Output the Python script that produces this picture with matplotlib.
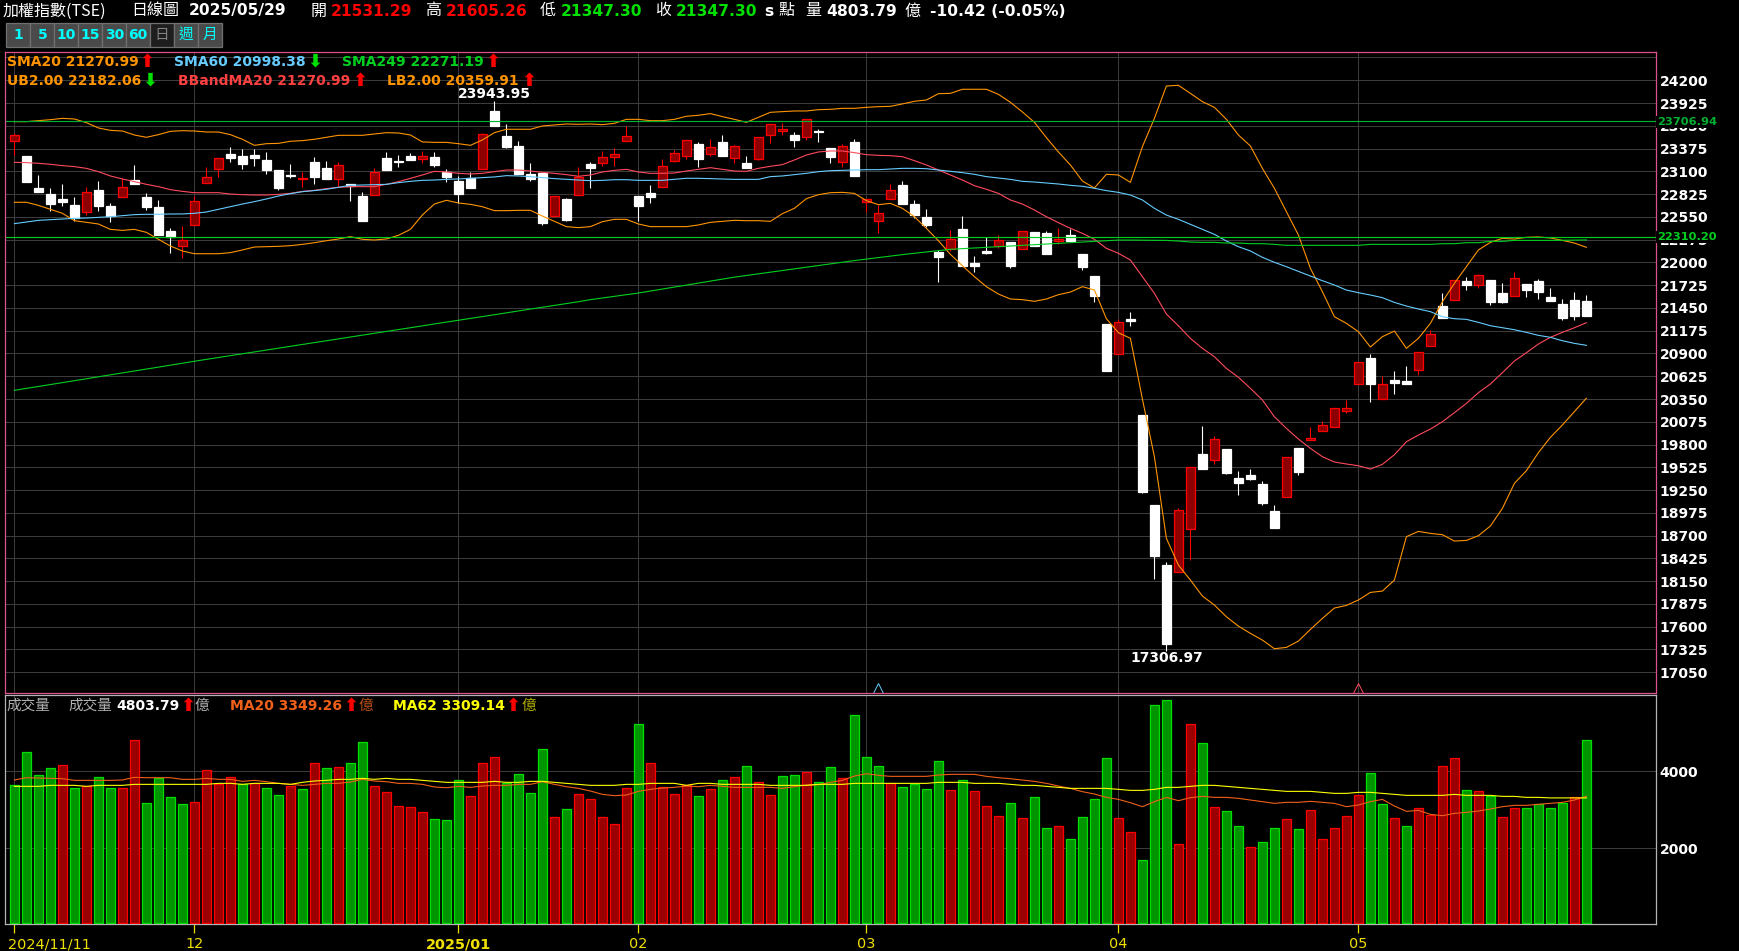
import matplotlib
matplotlib.use("Agg")
import matplotlib.pyplot as plt
from matplotlib.transforms import ScaledTranslation

W, H = 1740, 951
CJK = ['Noto Sans CJK TC', 'DejaVu Sans']

opens = [23471,23285,22895,22822,22766,22693,22613,22875,22681,22794,
         22995,22790,22669,22379,22202,22456,22963,23124,23310,23285,
         23297,23237,23116,23056,23004,23209,23140,23012,22947,22802,
         22810,23261,23225,23285,23253,23273,23092,22983,23020,23132,
         23829,23527,23406,23068,23080,22561,22766,22818,23189,23205,
         23269,23471,22802,22838,22915,23225,23289,23430,23314,23455,
         23265,23201,23253,23543,23587,23539,23519,23583,23382,23213,
         23455,22730,22504,22766,22935,22705,22548,22126,22158,22403,
         21993,22138,22198,22246,22166,22367,22355,22258,22331,22101,
         21836,21256,20890,21313,20157,19069,18344,18256,18775,19685,
         19609,19746,19395,19432,19323,18997,19162,19758,19859,19967,
         20016,20209,20535,20842,20350,20580,20567,20697,20994,21473,
         21550,21775,21727,21787,21630,21598,21739,21775,21582,21497,
         21546,21531.29]
closes = [23539,22975,22854,22709,22730,22532,22846,22685,22561,22907,
          22943,22673,22335,22303,22271,22738,23032,23257,23261,23193,
          23265,23116,22899,23044,23016,23032,23008,23173,22923,22500,
          23096,23116,23217,23237,23281,23177,23032,22826,22899,23547,
          23652,23394,23072,23008,22476,22798,22512,23036,23140,23273,
          23310,23527,22685,22790,23165,23318,23475,23249,23390,23285,
          23406,23140,23511,23668,23608,23479,23728,23575,23273,23406,
          23044,22762,22593,22875,22705,22573,22452,22065,22283,21956,
          21956,22110,22271,21956,22375,22198,22101,22283,22258,21944,
          21594,20688,21277,21296,19226,18457,17394,19005,19524,19508,
          19863,19460,19335,19383,19097,18795,19645,19472,19875,20032,
          20237,20237,20793,20531,20528,20547,20535,20914,21131,21332,
          21783,21723,21844,21521,21521,21807,21666,21642,21533,21328,
          21352,21347.30]
highs = [23559,23285,23052,22895,22947,22790,22911,22983,22718,23020,
         23177,22834,22754,22412,22440,22802,23152,23261,23394,23370,
         23370,23334,23116,23189,23096,23273,23225,23213,22947,22850,
         23140,23334,23297,23322,23346,23334,23128,23044,23092,23559,
         23943.95,23672,23467,23201,23080,22802,22778,23152,23213,23346,
         23378,23648,22802,22935,23249,23358,23479,23455,23491,23539,
         23418,23285,23515,23672,23684,23575,23732,23612,23382,23430,
         23491,22766,22693,22947,22983,22754,22645,22150,22391,22560,
         22077,22307,22331,22246,22379,22367,22379,22415,22403,22101,
         21836,21256,21313,21397,20157,19069,18381,19033,19524,20024,
         19903,19746,19480,19504,19359,19069,19645,19758,20012,20080,
         20237,20338,20793,20890,20628,20688,20749,20914,21179,21630,
         21783,21823,21860,21787,21751,21884,21739,21799,21691,21558,
         21642,21605.26]
lows = [23297,22975,22854,22625,22685,22504,22573,22625,22492,22794,
        22943,22633,22335,22118,22057,22456,22963,23036,23213,23128,
        23165,23068,22875,23020,22911,22947,23008,22915,22742,22500,
        22810,23116,23157,23237,23201,23153,22971,22714,22899,23128,
        23652,23378,23072,22983,22452,22544,22500,22818,22899,23165,
        23165,23471,22500,22718,22915,23213,23249,23153,23285,23285,
        23201,23140,23237,23442,23539,23394,23479,23455,23201,23153,
        23044,22609,22355,22766,22705,22536,22428,21763,22138,21956,
        21884,22101,22174,21932,22158,22198,22101,22222,22246,21908,
        21522,20688,20890,21236,19210,18179,17306.97,18256,18409,19508,
        19569,19448,19190,19375,19069,18795,19162,19432,19859,19967,
        20008,20181,20535,20314,20350,20410,20535,20640,20994,21332,
        21550,21666,21691,21485,21509,21598,21582,21558,21533,21304,
        21304,21347.30]

ub = [23700,23700,23712,23724,23740,23732,23688,23624,23595,23587,
      23539,23511,23543,23583,23591,23587,23575,23575,23543,23487,
      23414,23434,23438,23463,23471,23487,23511,23535,23535,23535,
      23551,23567,23563,23539,23455,23450,23450,23434,23414,23479,
      23567,23608,23608,23608,23648,23660,23672,23668,23672,23664,
      23680,23728,23728,23712,23712,23728,23765,23777,23797,23761,
      23728,23692,23752,23813,23821,23829,23829,23845,23849,23861,
      23861,23873,23881,23885,23914,23946,23962,24038,24042,24091,
      24091,24091,24030,23934,23817,23692,23507,23334,23177,22983,
      22899,23064,23056,22967,23398,23740,24131,24139,24042,23942,
      23873,23728,23539,23406,23136,22895,22613,22331,21928,21646,
      21344,21264,21163,20978,21103,21171,20962,21082,21264,21525,
      21747,21948,22150,22242,22291,22282,22303,22307,22295,22266,
      22234,22182.06]
lb = [22726,22726,22689,22641,22593,22504,22484,22464,22399,22387,
      22399,22363,22279,22198,22138,22105,22105,22105,22118,22150,
      22186,22190,22194,22202,22218,22238,22262,22283,22311,22279,
      22271,22283,22327,22399,22573,22705,22750,22718,22701,22673,
      22625,22625,22629,22629,22560,22496,22432,22420,22432,22492,
      22520,22520,22464,22432,22432,22432,22432,22452,22484,22496,
      22508,22504,22504,22496,22589,22653,22770,22818,22842,22846,
      22834,22746,22697,22713,22653,22552,22411,22262,22097,21960,
      21828,21707,21618,21558,21550,21530,21558,21610,21642,21707,
      21667,21320,21151,21083,20350,19653,18667,18344,18163,17970,
      17861,17720,17607,17519,17438,17334,17350,17426,17567,17700,
      17825,17857,17922,18014,18030,18163,18687,18751,18727,18711,
      18634,18642,18699,18816,19029,19331,19484,19702,19887,20036,
      20197,20359.91]
sma20 = [23209,23205,23197,23185,23169,23157,23136,23096,23044,23008,
         22975,22943,22915,22879,22858,22842,22842,22842,22826,22818,
         22814,22814,22822,22834,22858,22871,22891,22907,22915,22915,
         22915,22943,22975,23016,23056,23100,23092,23076,23068,23076,
         23096,23116,23116,23104,23088,23076,23060,23040,23056,23092,
         23112,23124,23092,23076,23076,23080,23104,23124,23144,23124,
         23104,23100,23136,23161,23181,23237,23297,23334,23346,23346,
         23326,23301,23293,23289,23277,23229,23177,23116,23056,22995,
         22927,22883,22834,22754,22705,22633,22552,22480,22412,22351,
         22279,22170,22110,22029,21828,21626,21376,21235,21082,20962,
         20861,20720,20612,20479,20338,20136,19995,19867,19754,19653,
         19589,19565,19544,19504,19561,19677,19834,19915,19987,20076,
         20185,20297,20426,20531,20668,20809,20909,21014,21095,21155,
         21211,21270.99]
sma60 = [22468,22488,22508,22516,22524,22532,22536,22544,22552,22565,
         22577,22581,22581,22585,22585,22593,22609,22641,22673,22705,
         22734,22766,22802,22830,22854,22867,22883,22907,22931,22935,
         22939,22943,22963,22979,22991,22995,23003,23008,23016,23024,
         23032,23048,23044,23036,23024,23012,23003,22995,22987,22991,
         22999,22999,22991,22991,22991,23003,23016,23016,23012,23008,
         23003,23003,23003,23036,23044,23060,23076,23096,23108,23112,
         23116,23120,23120,23128,23136,23136,23132,23116,23100,23084,
         23064,23036,23020,23003,22979,22971,22959,22947,22931,22919,
         22895,22867,22846,22814,22754,22653,22572,22520,22460,22399,
         22339,22258,22190,22138,22061,22001,21948,21892,21835,21779,
         21727,21666,21634,21606,21574,21517,21473,21437,21405,21344,
         21320,21312,21276,21235,21211,21187,21155,21119,21095,21054,
         21022,20998.38]
sma249 = [20455,20478,20501,20525,20548,20571,20595,20618,20642,20665,
          20688,20712,20735,20759,20782,20806,20829,20851,20874,20896,
          20919,20941,20964,20986,21009,21031,21054,21076,21099,21121,
          21144,21166,21189,21211,21234,21256,21279,21301,21323,21346,
          21368,21391,21413,21436,21458,21480,21503,21525,21550,21570,
          21590,21610,21630,21654,21678,21702,21726,21750,21774,21798,
          21822,21842,21862,21882,21902,21922,21942,21962,21982,22002,
          22022,22040,22058,22076,22094,22110,22126,22142,22158,22166,
          22174,22182,22190,22198,22206,22214,22222,22230,22238,22246,
          22254,22262,22270,22270,22268,22267,22266,22258,22246,22242,
          22242,22234,22234,22226,22226,22218,22206,22206,22206,22206,
          22206,22206,22206,22218,22218,22218,22218,22218,22218,22226,
          22226,22238,22238,22254,22254,22266,22266,22266,22266,22268,
          22270,22271.19]

volumes = [3644,4501,3903,4085,4163,3566,3609,3852,3566,3566,
           4813,3176,3826,3332,3150,3202,4033,3670,3852,3670,
           3696,3566,3384,3618,3540,4215,4085,4111,4215,4761,
           3618,3462,3098,3072,2942,2761,2735,3774,3358,4215,
           4371,3696,3929,3436,4579,2813,3020,3410,3280,2813,
           2631,3566,5228,4215,3592,3410,3644,3358,3540,3774,
           3852,4137,3722,3384,3877,3903,3981,3722,4111,3826,
           5462,4371,4137,3696,3592,3670,3540,4267,3514,3774,
           3488,3098,2839,3176,2787,3332,2527,2579,2241,2813,
           3280,4345,2787,2423,1696,5722,5852,2111,5228,4735,
           3072,2968,2579,2033,2163,2527,2761,2501,2994,2241,
           2527,2839,3384,3955,3150,2787,2579,3046,2864,4137,
           4345,3514,3488,3358,2813,3046,3046,3150,3046,3176,
           3332,4803.79]
vol_colors = ("GGGGRGRGGR" "RGGGGRRRRG" "RGGRGRGRGG" "RRRRRGGGRR" "RGGGGRGRRR"
              "RRGRRRRGRG" "RGRRGGRGGR" "GGGRGGGGRG" "RRRGRGGRGG" "GGRRGGGRRG"
              "RGGRGGRGRR" "RRRGGRGRRR" "RGRGRRGGGG" "RG")
vol_ma20 = [3774,3834,3826,3817,3808,3765,3765,3765,3765,3774,
            3843,3834,3834,3834,3791,3791,3817,3791,3791,3739,
            3765,3730,3687,3661,3635,3661,3687,3687,3722,3791,
            3748,3730,3687,3687,3661,3592,3574,3609,3583,3618,
            3635,3635,3661,3661,3730,3661,3600,3557,3488,3401,
            3367,3384,3479,3531,3566,3583,3618,3600,3635,3609,
            3583,3583,3583,3583,3557,3600,3644,3652,3713,3765,
            3877,3938,3895,3869,3869,3869,3869,3903,3921,3921,
            3921,3869,3834,3808,3774,3739,3687,3618,3557,3471,
            3410,3323,3271,3185,3081,3211,3323,3237,3315,3349,
            3323,3323,3297,3254,3211,3168,3194,3194,3220,3194,
            3168,3081,3124,3211,3271,3098,2960,2986,2882,2847,
            2908,2934,2968,3020,3081,3116,3116,3142,3168,3194,
            3254,3349.26]
vol_ma62 = [3609,3609,3609,3635,3635,3635,3609,3635,3635,3635,
            3661,3661,3661,3661,3661,3661,3661,3687,3687,3661,
            3687,3687,3687,3661,3713,3748,3765,3791,3791,3817,
            3791,3817,3791,3791,3765,3739,3713,3713,3713,3713,
            3739,3713,3713,3739,3739,3713,3687,3661,3635,3635,
            3635,3661,3661,3687,3687,3687,3635,3687,3687,3661,
            3661,3661,3661,3635,3635,3635,3635,3661,3661,3661,
            3687,3687,3687,3687,3687,3687,3687,3713,3713,3713,
            3687,3687,3687,3661,3635,3635,3609,3583,3557,3557,
            3557,3557,3531,3505,3505,3531,3583,3583,3609,3635,
            3635,3609,3583,3557,3531,3505,3479,3479,3479,3453,
            3427,3427,3453,3453,3427,3401,3375,3375,3375,3375,
            3401,3375,3375,3375,3349,3349,3323,3323,3309,3309,
            3309,3309.14]

month_idx = [0, 15, 37, 52, 71, 92, 112]
month_lab = ['2024/11/11', '12', '2025/01', '02', '03', '04', '05']
price_levels = [17050,17325,17600,17875,18150,18425,18700,18975,19250,19525,19800,
                20075,20350,20625,20900,21175,21450,21725,22000,22275,22550,22825,
                23100,23375,23650,23925,24200]
hlines = [23706.94, 22310.20]
vol_levels = [2000, 4000]
n = len(closes)
xs = list(range(n))

RED, DRED = '#ff0000', '#8e0000'
GREEN, DGREEN = '#00e000', '#009400'
GRID = '#3c3c3c'
PINK = '#e0508c'
GRAY = '#b4b4b4'

fig = plt.figure(figsize=(W / 100, H / 100), dpi=100, facecolor='black')


def rect(l, t, r, b):
    return [l / W, 1 - b / H, (r - l) / W, (b - t) / H]


ax = fig.add_axes(rect(5, 51.7, 1656, 692.5), facecolor='black')
av = fig.add_axes(rect(5, 695, 1656, 924.3), facecolor='black')
x0, x1 = -0.783, 136.8
for a in (ax, av):
    a.set_xlim(x0, x1)
    a.set_axisbelow(True)
    a.set_xticks(month_idx)
    a.grid(True, color=GRID, lw=0.72)
ax.set_ylim(16805, 24545)
av.set_ylim(26, 5982)

# price axis
ax.yaxis.tick_right()
ax.set_yticks(price_levels + [24475])
ax.set_yticklabels([str(v) for v in price_levels] + [''], color='white',
                   fontsize=10, fontweight='bold')
ax.tick_params(axis='y', length=0, pad=2.5)
ax.tick_params(axis='x', length=0, labelbottom=False)
for s in ax.spines.values():
    s.set_color(PINK)
    s.set_linewidth(0.9)

# candles
for i in xs:
    up = closes[i] > opens[i]
    wick = RED if up else 'white'
    ax.vlines(i, lows[i], highs[i], color=wick, lw=0.8, zorder=3)
    bot, top = min(opens[i], closes[i]), max(opens[i], closes[i])
    ax.bar(i, top - bot, bottom=bot, width=0.7, zorder=4,
           facecolor=DRED if up else 'white',
           edgecolor=RED if up else 'white', linewidth=0.9)

for series, col in [(ub, '#ff9400'), (lb, '#ff9400'), (sma20, '#ff4a5c'),
                    (sma60, '#66ccff'), (sma249, '#00d020')]:
    ax.plot(xs, series, color=col, lw=0.8, zorder=5)
ax.axhline(hlines[0], color='#00b030', lw=0.85, zorder=6)
ax.axhline(hlines[1], color='#00cc20', lw=0.85, zorder=6)
ax.plot([72], [16860], marker='^', ms=7, mfc='none', mec='#66ccff', mew=0.7, zorder=6)
ax.plot([112], [16860], marker='^', ms=7, mfc='none', mec='#ff4a5c', mew=0.7, zorder=6)
for s in ax.spines.values():
    s.set_zorder(7)

ax.annotate(f'{highs[40]:.2f}', (40, highs[40]), xytext=(0, 7), textcoords='offset pixels',
            color='white', fontsize=10, fontweight='bold', ha='center', va='center', zorder=8)
ax.annotate(f'{lows[96]:.2f}', (96, lows[96]), xytext=(0, -7), textcoords='offset pixels',
            color='white', fontsize=10, fontweight='bold', ha='center', va='center', zorder=8)

# volume
av.yaxis.tick_right()
av.set_yticks(vol_levels)
av.set_yticklabels([str(v) for v in vol_levels], color='white', fontsize=10, fontweight='bold')
av.tick_params(axis='y', length=0, pad=2.5)
av.set_xticklabels(month_lab, color='#f0e000', fontsize=10.4)
av.get_xticklabels()[2].set_fontweight('bold')
av.tick_params(axis='x', length=6.2, width=0.9, color='#f0e000', pad=3, direction='out')
first = av.get_xticklabels()[0]
first.set_ha('left')
first.set_transform(first.get_transform() + ScaledTranslation(-6.4 / 100, 0, fig.dpi_scale_trans))
for s in av.spines.values():
    s.set_color(GRAY)
    s.set_linewidth(0.9)
for i in xs:
    g = vol_colors[i] == 'G'
    av.bar(i, volumes[i] - 68, bottom=68, width=0.7, zorder=3,
           facecolor=DGREEN if g else '#9a0000',
           edgecolor=GREEN if g else RED, linewidth=0.9)
av.plot(xs, vol_ma20, color='#f06018', lw=0.8, zorder=5)
av.plot(xs, vol_ma62, color='#ffff00', lw=0.8, zorder=5)


def put(x, y, s, color='white', size=10, weight='bold', fam=None, **kw):
    return fig.text(x / W, 1 - y / H, s, color=color, fontsize=size, fontweight=weight,
                    family=fam or 'DejaVu Sans', va='center', ha=kw.pop('ha', 'left'), **kw)


# header
for x, s, c, w, fam, sz in [
    (3, '加權指數(TSE)', 'white', 'normal', CJK, 11.5),
    (131, '日線圖', 'white', 'normal', CJK, 11.5),
    (189, '2025/05/29', 'white', 'bold', None, 11.2),
    (311, '開', 'white', 'normal', CJK, 11.5),
    (331, f'{opens[-1]:.2f}', '#ff0000', 'bold', None, 11.2),
    (425, '高', 'white', 'normal', CJK, 11.5),
    (446, f'{highs[-1]:.2f}', '#ff0000', 'bold', None, 11.2),
    (540, '低', 'white', 'normal', CJK, 11.5),
    (561, f'{lows[-1]:.2f}', '#00e000', 'bold', None, 11.2),
    (655, '收', 'white', 'normal', CJK, 11.5),
    (676, f'{closes[-1]:.2f}', '#00e000', 'bold', None, 11.2),
    (764, 's', 'white', 'bold', None, 11.2),
    (778, '點', 'white', 'normal', CJK, 11.5),
    (805, '量', 'white', 'normal', CJK, 11.5),
    (826, f'{volumes[-1]:.2f}', 'white', 'bold', None, 11.2),
    (904, '億', 'white', 'normal', CJK, 11.5),
    (930, '-10.42 (-0.05%)', 'white', 'bold', None, 11.2),
]:
    put(x, 11, s, c, sz, w, fam)

# period buttons
edges = [6.3, 30.3, 54.4, 78.4, 102.5, 126.2, 150.2, 173.9, 197.9, 222]
labels = ['1', '5', '10', '15', '30', '60', '日', '週', '月']
for k, s in enumerate(labels):
    cur = s == '日'
    fig.patches.append(plt.Rectangle((edges[k] / W, 1 - 47 / H), (edges[k + 1] - edges[k]) / W, 24 / H,
                                     transform=fig.transFigure, facecolor='#1e1e1e' if cur else '#4a4a4a',
                                     edgecolor='#707070', lw=0.9))
    put((edges[k] + edges[k + 1]) / 2, 35, s, '#808080' if cur else '#00ffff',
        10 if k < 6 else 10.5, 'bold' if k < 6 else 'normal', CJK if k >= 6 else None, ha='center')


def arrow(x, y, up=True):
    put(x, y, '⬆' if up else '⬇', '#ff0000' if up else '#00e000', 13, 'bold', ha='center')


for x, y, s, c, ax_, up in [
    (6.7, 62, f'SMA20 {sma20[-1]:.2f}', '#ff9400', 147, True),
    (174, 62, f'SMA60 {sma60[-1]:.2f}', '#66ccff', 315, False),
    (342, 62, f'SMA249 {sma249[-1]:.2f}', '#00d020', 493, True),
    (6.7, 81, f'UB2.00 {ub[-1]:.2f}', '#ff9400', 150, False),
    (178, 81, f'BBandMA20 {sma20[-1]:.2f}', '#ff4040', 360, True),
    (387, 81, f'LB2.00 {lb[-1]:.2f}', '#ff9400', 529, True),
]:
    put(x, y, s, c, 10.0)
    arrow(ax_, y, up)

put(6, 705.7, '成交量', '#b0b0b0', 10.5, 'normal', CJK)
put(68, 705.7, '成交量', '#b0b0b0', 10.5, 'normal', CJK)
put(116, 705.7, f'{volumes[-1]:.2f}', 'white', 10.0)
arrow(188, 705.7)
put(195, 705.7, '億', '#b0b0b0', 10.5, 'normal', CJK)
put(230, 705.7, f'MA20 {vol_ma20[-1]:.2f}', '#f06018', 10.0)
arrow(351, 705.7)
put(359, 705.7, '億', '#b85018', 10.5, 'normal', CJK)
put(393, 705.7, f'MA62 {vol_ma62[-1]:.2f}', '#ffff00', 10.0)
arrow(513, 705.7)
put(522, 705.7, '億', '#b0b000', 10.5, 'normal', CJK)

# horizontal-line value tags on the price axis
put(1657.6, 122, f'{hlines[0]:.2f}', '#00b030', 8.2,
    bbox=dict(facecolor='black', edgecolor='none', pad=1.0))
put(1657.6, 237, f'{hlines[1]:.2f}', '#00cc20', 8.2,
    bbox=dict(facecolor='black', edgecolor='none', pad=1.0))

fig.savefig('out.png', dpi=100, facecolor='black')
